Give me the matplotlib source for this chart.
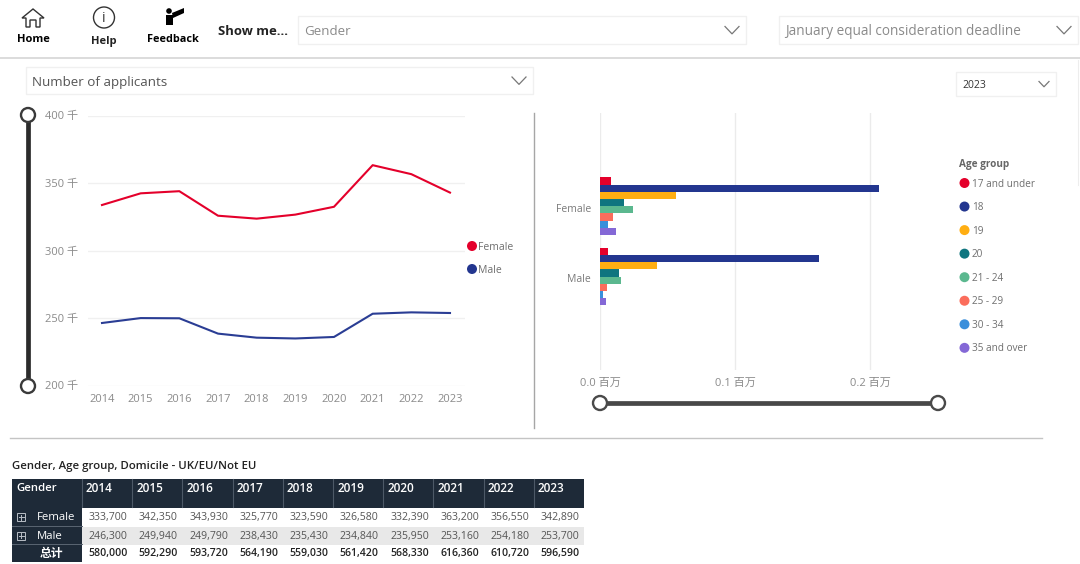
import matplotlib
matplotlib.use("Agg")
import matplotlib.pyplot as plt
from matplotlib.patches import Rectangle, Circle, Polygon
from matplotlib.transforms import ScaledTranslation

FONT = ['Open Sans', 'Noto Sans CJK SC', 'DejaVu Sans']
plt.rcParams['font.family'] = FONT

years = [2014, 2015, 2016, 2017, 2018, 2019, 2020, 2021, 2022, 2023]
female = [333700, 342350, 343930, 325770, 323590, 326580, 332390, 363200, 356550, 342890]
male = [246300, 249940, 249790, 238430, 235430, 234840, 235950, 253160, 254180, 253700]
total = [580000, 592290, 593720, 564190, 559030, 561420, 568330, 616360, 610720, 596590]

genders = ['Female', 'Male']
age_groups = ['17 and under', '18', '19', '20', '21 - 24', '25 - 29', '30 - 34', '35 and over']
age_colors = ['#E4002B', '#23368F', '#FFAE12', '#0F757F', '#5BB88F', '#FB6D5C', '#3A8FDB', '#8468D6']
age_female = [7900, 206700, 55900, 18000, 24100, 9900, 6200, 11800]
age_male = [5700, 162000, 41900, 14000, 15800, 4900, 2200, 4200]

y_ticks = [200000, 250000, 300000, 350000, 400000]
y_labels = ['200 千', '250 千', '300 千', '350 千', '400 千']
x_ticks = [0, 100000, 200000]
x_labels = ['0.0 百万', '0.1 百万', '0.2 百万']

W, H = 1080, 564
fig = plt.figure(figsize=(W / 100, H / 100), dpi=100, facecolor='white')


def px_axes(x0, y0, x1, y1, **kw):
    return fig.add_axes([x0 / W, 1 - y1 / H, (x1 - x0) / W, (y1 - y0) / H], **kw)


ov = px_axes(0, 0, W, H, zorder=5)
ov.set_xlim(0, W)
ov.set_ylim(H, 0)
ov.axis('off')
ov.patch.set_alpha(0)


def txt(x, y, s, **kw):
    kw.setdefault('va', 'center')
    return ov.text(x, y + 1.6, s, **kw)


# ---- line chart
ax = px_axes(88, 115.5, 465, 385.5)
ax.set_xlim(2014 - 14 / 38.67, 2023 + 15 / 38.67)
ax.set_ylim(200000, 400000)
ax.plot(years, female, color='#E4002B', lw=1.5, solid_joinstyle='round')
ax.plot(years, male, color='#2A3D94', lw=1.5, solid_joinstyle='round')
ax.set_yticks(y_ticks)
ax.set_yticklabels(y_labels, fontsize=8, color='#8a8a8a')
ax.set_xticks(years)
ax.set_xticklabels(years, fontsize=8, color='#8a8a8a')
ax.tick_params(axis='y', length=0, pad=7.2)
ax.tick_params(axis='x', length=0, pad=6)
ax.grid(axis='y', color='#f0f0f0', lw=1)
ax.set_axisbelow(True)
for s in ax.spines.values():
    s.set_visible(False)

# ---- bar chart
bx = px_axes(600, 113, 940, 370)
bx.set_xlim(0, 340 / 135.2 * 100000)
bx.set_ylim(2.329, -1.327)
bar_h = 0.1024
for i, (name, c) in enumerate(zip(age_groups, age_colors)):
    off = (i - 3.5) * bar_h
    bx.barh([0 + off, 1 + off], [age_female[i], age_male[i]], height=bar_h, color=c, lw=0)
bx.set_xticks(x_ticks)
bx.set_xticklabels(x_labels, fontsize=8, color='#8a8a8a')
bx.set_yticks([0, 1])
bx.set_yticklabels(genders, fontsize=7.5, color='#7a7a7a')
bx.tick_params(axis='x', length=0, pad=6)
bx.tick_params(axis='y', length=0, pad=8)
shift = ScaledTranslation(1.5 / 72, -1.2 / 72, fig.dpi_scale_trans)
for lab in bx.get_yticklabels():
    lab.set_transform(lab.get_transform() + shift)
bx.grid(axis='x', color='#ebebeb', lw=1)
bx.set_axisbelow(True)
for s in bx.spines.values():
    s.set_visible(False)

# ---- line legend
for lab, yy, c in zip(genders, [246, 269], ['#E4002B', '#23368F']):
    ov.add_patch(Circle((472, yy), 5, color=c, lw=0))
    txt(478, yy, lab, fontsize=7.5, color='#6f6f6f')

# ---- age legend
txt(959, 163, 'Age group', fontsize=7.2, color='#666666', weight='bold')
for i, (lab, c) in enumerate(zip(age_groups, age_colors)):
    yy = 183 + i * 23.55
    ov.add_patch(Circle((964.5, yy), 5, color=c, lw=0))
    txt(972, yy - 0.5, lab, fontsize=7.2, color='#6f6f6f')

# ---- sliders
ov.plot([28, 28], [115, 386], color='#2b2b2b', lw=3.4, solid_capstyle='butt', zorder=2)
for yy in (115, 386):
    ov.add_patch(Circle((28, yy), 7, fc='white', ec='#3a3a3a', lw=1.7, zorder=3))
ov.plot([600, 938], [403, 403], color='#484848', lw=3.4, solid_capstyle='butt', zorder=2)
for xx in (600, 938):
    ov.add_patch(Circle((xx, 403), 7, fc='white', ec='#4a4a4a', lw=1.7, zorder=3))

# ---- dividers
ov.plot([0, W], [58, 58], color='#dcdcdc', lw=1.4)
ov.plot([534, 534], [113, 428], color='#a6a6a6', lw=1)
ov.plot([10, 1042], [438, 438], color='#c4c4c4', lw=1)
ov.plot([1078, 1078], [60, 185], color='#ededed', lw=0.8)


# ---- dropdown boxes
def dropdown(x0, y0, x1, y1, label, fs, color, chev=7, tx=6):
    ov.add_patch(Rectangle((x0, y0), x1 - x0, y1 - y0, fc='white', ec='#f0f0f0', lw=1))
    txt(x0 + tx, (y0 + y1) / 2, label, fontsize=fs, color=color)
    cx, cy = x1 - 14 - (chev - 7), (y0 + y1) / 2
    ov.plot([cx - chev, cx, cx + chev], [cy - chev * .5, cy + chev * .55, cy - chev * .5],
            color='#777777', lw=0.9)


dropdown(298, 16, 746, 44, 'Gender', 9.6, '#8a8a8a')
dropdown(779, 16, 1078, 44, 'January equal consideration deadline', 9.85, '#8a8a8a')
dropdown(26, 67, 533, 94, 'Number of applicants', 9.65, '#555555')
dropdown(956, 72, 1056, 96, '2023', 7.5, '#333333', chev=5)

# ---- toolbar
txt(33, 38, 'Home', fontsize=8, weight='bold', color='black', ha='center')
txt(104, 40, 'Help', fontsize=8, weight='bold', color='#222222', ha='center')
txt(173, 38, 'Feedback', fontsize=7.8, weight='bold', color='black', ha='center')
txt(218, 30, 'Show me...', fontsize=9.4, weight='bold', color='#222222')
ov.add_patch(Polygon([(22, 18), (33, 9), (44, 18), (40, 18), (40, 27), (36, 27), (36, 20),
                      (30, 20), (30, 27), (26, 27), (26, 18)],
                     closed=True, fc='white', ec='#333333', lw=1))
ov.add_patch(Circle((104, 17.5), 10.5, fc='white', ec='#333333', lw=1))
ov.text(104, 18, 'i', fontsize=10, color='#333333', ha='center', va='center')
ov.add_patch(Circle((169, 11), 2.8, fc='black', lw=0))
ov.add_patch(Polygon([(166, 15), (173, 15), (173, 25), (166, 25)], closed=True, fc='black', lw=0))
ov.add_patch(Polygon([(172, 13), (184, 8), (184, 13), (173, 18)], closed=True, fc='black', lw=0))

# ---- table
HEAD = '#1E2A38'
col0, col1, step = 12, 82, 50.2
txt(12, 465, 'Gender, Age group, Domicile - UK/EU/Not EU', fontsize=8.2, weight='semibold',
    color='#222222')
ov.add_patch(Rectangle((col0, 479), 572, 28.5, fc=HEAD, lw=0))
txt(16, 486.5, 'Gender', fontsize=8.2, color='white', weight='semibold')
for i, yr in enumerate(years):
    left = col1 + i * step
    txt(left + 4, 486.5, str(yr), fontsize=8.5, color='white', weight='semibold')
    ov.plot([left, left], [479, 507], color='#4d5967', lw=0.8)

rows = [('Female', female, 516), ('Male', male, 534.5), ('总计', total, 552)]
ov.add_patch(Rectangle((col1, 526.5), 502, 18, fc='#e8e8e8', lw=0))
ov.add_patch(Rectangle((col0, 508), col1 - col0, 54, fc=HEAD, lw=0))
ov.plot([col0, col1], [526, 526], color='#5a6572', lw=0.7)
ov.plot([col0, col1], [544, 544], color='#5a6572', lw=0.7)
for name, vals, yy in rows:
    is_total = name == '总计'
    if is_total:
        ov.text(51, yy + 1, name, fontsize=8.5, color='white', weight='bold', ha='center', va='center')
    else:
        ov.add_patch(Rectangle((17, yy - 3), 8, 8, fc='none', ec='#b8bec6', lw=0.7))
        ov.plot([18.5, 23.5], [yy + 1, yy + 1], color='#b8bec6', lw=0.7)
        ov.plot([21, 21], [yy - 1.5, yy + 3.5], color='#b8bec6', lw=0.7)
        txt(37, yy, name, fontsize=8.2, color='white')
    for i, v in enumerate(vals):
        txt(col1 + (i + 1) * step - 4.5, yy, f'{v:,}', fontsize=7.6, ha='right',
            color='#222222' if is_total else '#555555',
            weight='semibold' if is_total else 'normal')

fig.savefig('out.png', dpi=100)
